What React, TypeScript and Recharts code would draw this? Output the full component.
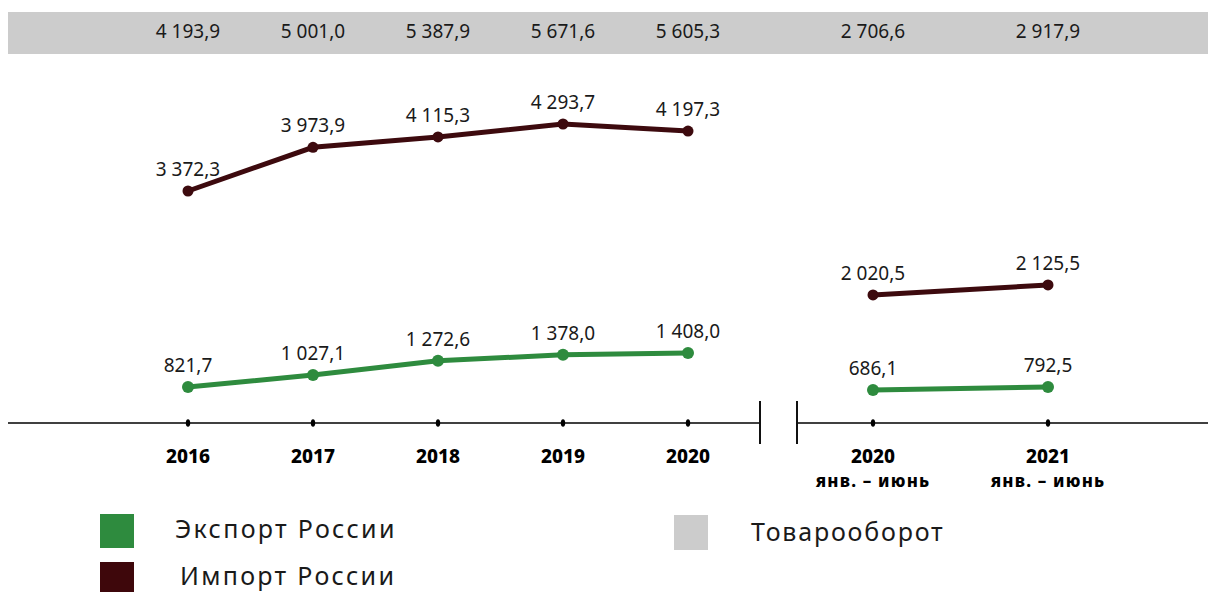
import React from 'react';
import { LineChart, Line, XAxis, YAxis, LabelList } from 'recharts';

const years = ['2016', '2017', '2018', '2019', '2020'];
const exportAnnual = [821.7, 1027.1, 1272.6, 1378.0, 1408.0];
const importAnnual = [3372.3, 3973.9, 4115.3, 4293.7, 4197.3];
const turnoverAnnual = [4193.9, 5001.0, 5387.9, 5671.6, 5605.3];

const halfYears = ['2020', '2021'];
const halfPeriod = 'янв. – июнь';
const exportHalf = [686.1, 792.5];
const importHalf = [2020.5, 2125.5];
const turnoverHalf = [2706.6, 2917.9];

const legendLabels = { exp: 'Экспорт России', imp: 'Импорт России', total: 'Товарооборот' };

const GREEN = '#2e8b3e';
const MAROON = '#3d0a0e';
const GRAY = '#cccccc';
const TEXT = '#1a1a1a';
const FONT = '"Noto Sans", "DejaVu Sans", sans-serif';

const fmt = (v: any) => {
  const [i, d] = Number(v).toFixed(1).split('.');
  return i.replace(/\B(?=(\d{3})+(?!\d))/g, ' ') + ',' + d;
};

const annualData = years.map((p, i) => ({
  period: p,
  exp: exportAnnual[i],
  imp: importAnnual[i],
  total: turnoverAnnual[i],
}));
const halfData = halfYears.map((p, i) => ({
  period: p,
  exp: exportHalf[i],
  imp: importHalf[i],
  total: turnoverHalf[i],
}));

const BottomTick = (props: any) => {
  const { x, y, payload, sub } = props;
  return (
    <g>
      <ellipse cx={x} cy={y} rx={2.2} ry={3.8} fill="#000" />
      <text x={x} y={y + 40} textAnchor="middle" fontFamily={FONT} fontWeight={800} fontSize={19} fill="#000">
        {payload.value}
      </text>
      {sub ? (
        <text
          x={x}
          y={y + 64}
          textAnchor="middle"
          fontFamily={FONT}
          fontWeight={800}
          fontSize={17}
          letterSpacing={1.2}
          fill="#000"
        >
          {sub}
        </text>
      ) : null}
    </g>
  );
};

const TopTick = (props: any) => {
  const { x, y, payload, totals } = props;
  return (
    <text x={x} y={y - 22} textAnchor="middle" fontFamily={FONT} fontSize={19} fill={TEXT}>
      {fmt(totals[payload.index])}
    </text>
  );
};

const labelStyle = { fontFamily: FONT, fontSize: 19, fill: TEXT };

const legendText: React.CSSProperties = {
  position: 'absolute',
  height: 34,
  lineHeight: '34px',
  fontSize: 25,
  letterSpacing: 2.3,
  color: TEXT,
  whiteSpace: 'nowrap',
};

export default function App() {
  return (
    <div style={{ position: 'relative', width: 1200, height: 584, fontFamily: FONT }}>
      <style>{`html, body { overflow: hidden; } body { margin: 0; padding: 8px; width: 1208px; height: 592px; box-sizing: border-box; }`}</style>
      <div style={{ position: 'absolute', left: 0, top: 4, width: 1200, height: 42, background: GRAY }} />

      <div style={{ position: 'absolute', left: 0, top: 0 }}>
        <LineChart width={752} height={495} data={annualData} margin={{ top: 0, right: 0, bottom: 0, left: 0 }}>
          <XAxis
            xAxisId="top"
            orientation="top"
            dataKey="period"
            height={52}
            padding={{ left: 180, right: 72 }}
            axisLine={false}
            tickLine={false}
            tickSize={0}
            tickMargin={0}
            interval={0}
            tick={<TopTick totals={turnoverAnnual} />}
          />
          <XAxis
            dataKey="period"
            height={80}
            padding={{ left: 180, right: 72 }}
            axisLine={{ stroke: '#000', strokeWidth: 1.5 }}
            tickLine={false}
            tickSize={0}
            tickMargin={0}
            interval={0}
            tick={<BottomTick />}
          />
          <YAxis yAxisId="imp" hide domain={[182, 5174]} allowDataOverflow />
          <YAxis yAxisId="exp" hide domain={[201, 6461]} allowDataOverflow />
          <Line
            yAxisId="imp"
            dataKey="imp"
            stroke={MAROON}
            strokeWidth={5}
            dot={{ r: 5.5, fill: MAROON, stroke: MAROON, strokeWidth: 0 }}
            activeDot={false}
            isAnimationActive={false}
          >
            <LabelList dataKey="imp" position="top" offset={15} formatter={fmt} style={labelStyle} />
          </Line>
          <Line
            yAxisId="exp"
            dataKey="exp"
            stroke={GREEN}
            strokeWidth={5}
            dot={{ r: 6, fill: GREEN, stroke: GREEN, strokeWidth: 0 }}
            activeDot={false}
            isAnimationActive={false}
          >
            <LabelList dataKey="exp" position="top" offset={15} formatter={fmt} style={labelStyle} />
          </Line>
        </LineChart>
      </div>

      <div style={{ position: 'absolute', left: 789, top: 0 }}>
        <LineChart width={411} height={495} data={halfData} margin={{ top: 0, right: 0, bottom: 0, left: 0 }}>
          <XAxis
            xAxisId="top"
            orientation="top"
            dataKey="period"
            height={52}
            padding={{ left: 76, right: 160 }}
            axisLine={false}
            tickLine={false}
            tickSize={0}
            tickMargin={0}
            interval={0}
            tick={<TopTick totals={turnoverHalf} />}
          />
          <XAxis
            dataKey="period"
            height={80}
            padding={{ left: 76, right: 160 }}
            axisLine={{ stroke: '#000', strokeWidth: 1.5 }}
            tickLine={false}
            tickSize={0}
            tickMargin={0}
            interval={0}
            tick={<BottomTick sub={halfPeriod} />}
          />
          <YAxis yAxisId="imp" hide domain={[676, 4488]} allowDataOverflow />
          <YAxis yAxisId="exp" hide domain={[-484, 12388]} allowDataOverflow />
          <Line
            yAxisId="imp"
            dataKey="imp"
            stroke={MAROON}
            strokeWidth={5}
            dot={{ r: 5.5, fill: MAROON, stroke: MAROON, strokeWidth: 0 }}
            activeDot={false}
            isAnimationActive={false}
          >
            <LabelList dataKey="imp" position="top" offset={15} formatter={fmt} style={labelStyle} />
          </Line>
          <Line
            yAxisId="exp"
            dataKey="exp"
            stroke={GREEN}
            strokeWidth={5}
            dot={{ r: 6, fill: GREEN, stroke: GREEN, strokeWidth: 0 }}
            activeDot={false}
            isAnimationActive={false}
          >
            <LabelList dataKey="exp" position="top" offset={15} formatter={fmt} style={labelStyle} />
          </Line>
        </LineChart>
      </div>

      <div style={{ position: 'absolute', left: 751, top: 393, width: 1.5, height: 43, background: '#111' }} />
      <div style={{ position: 'absolute', left: 788, top: 393, width: 1.5, height: 43, background: '#111' }} />

      <div style={{ position: 'absolute', left: 92, top: 506, width: 34, height: 34, background: GREEN }} />
      <div style={{ ...legendText, left: 167, top: 503 }}>{legendLabels.exp}</div>
      <div style={{ position: 'absolute', left: 92, top: 554, width: 34, height: 30, background: '#3e070b' }} />
      <div style={{ ...legendText, left: 172, top: 550 }}>{legendLabels.imp}</div>
      <div style={{ position: 'absolute', left: 666, top: 507, width: 34, height: 35, background: GRAY }} />
      <div style={{ ...legendText, left: 743, top: 506, letterSpacing: 1.8 }}>{legendLabels.total}</div>
    </div>
  );
}
